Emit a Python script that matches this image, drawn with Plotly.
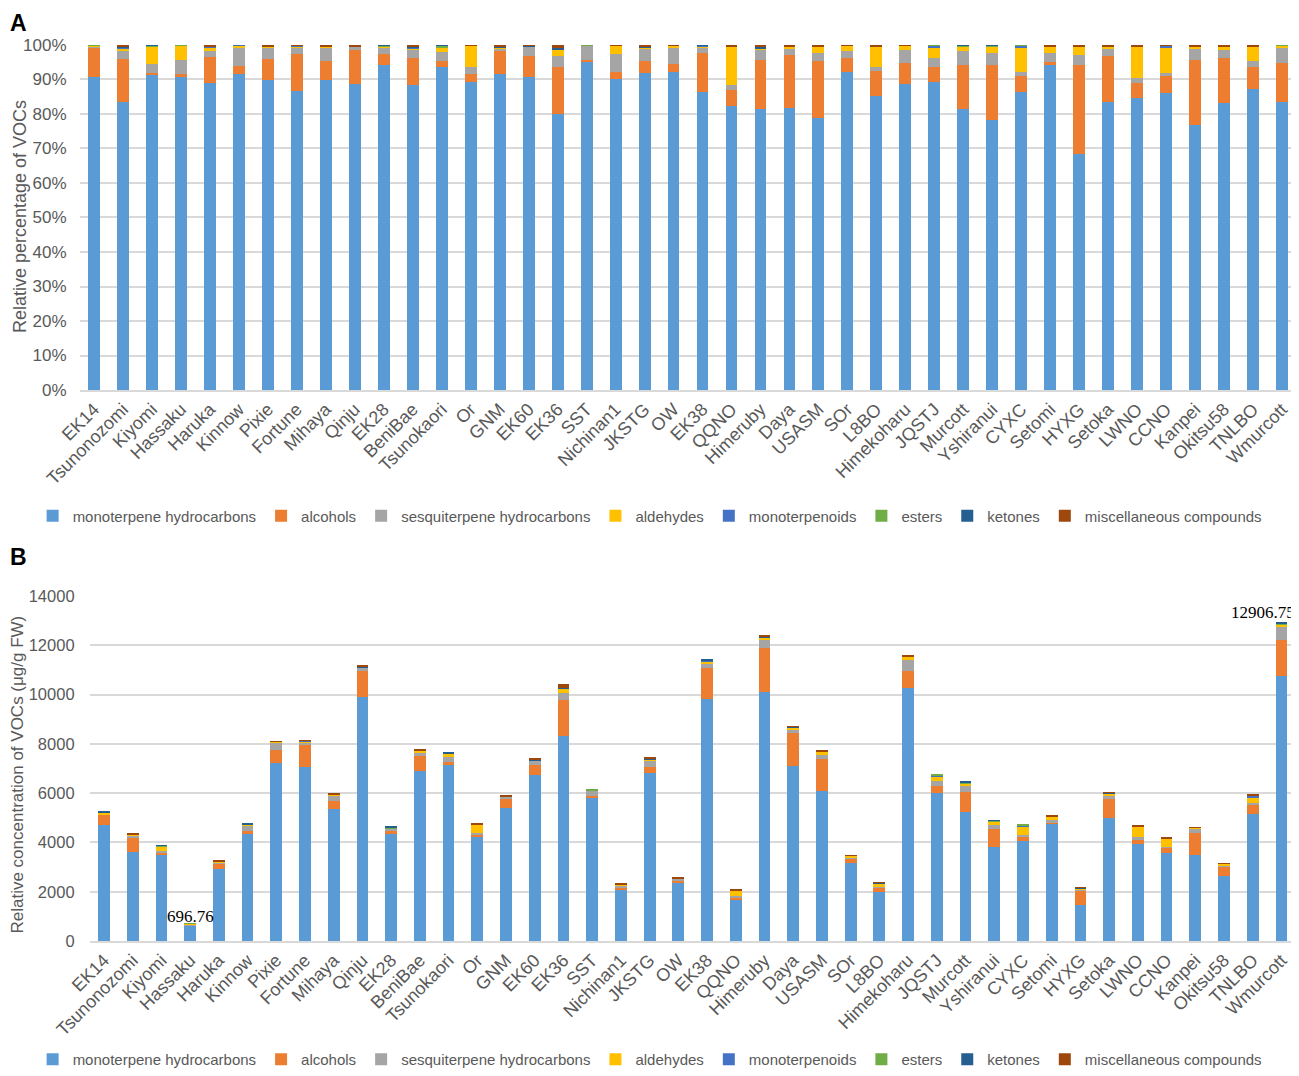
import plotly.graph_objects as go
from plotly.subplots import make_subplots

cultivars = ["EK14", "Tsunonozomi", "Kiyomi", "Hassaku", "Haruka", "Kinnow", "Pixie", "Fortune",
             "Mihaya", "Qinju", "EK28", "BeniBae", "Tsunokaori", "Or", "GNM", "EK60", "EK36", "SST",
             "Nichinan1", "JKSTG", "OW", "EK38", "QQNO", "Himeruby", "Daya", "USASM", "SOr", "L8BO",
             "Himekoharu", "JQSTJ", "Murcott", "Yshiranui", "CYXC", "Setomi", "HYXG", "Setoka",
             "LWNO", "CCNO", "Kanpei", "Okitsu58", "TNLBO", "Wmurcott"]

groups = ["monoterpene hydrocarbons", "alcohols", "sesquiterpene hydrocarbons", "aldehydes",
          "monoterpenoids", "esters", "ketones", "miscellaneous compounds"]
colors = ["#5B9BD5", "#ED7D31", "#A5A5A5", "#FFC000", "#4472C4", "#70AD47", "#255E91", "#9E480E"]

# panel A - relative percentage (%)
pct_mono_hc = [90.6, 83.5, 91.3, 90.6, 88.9, 91.7, 89.9, 86.7, 89.9, 88.7, 94.1, 88.3, 93.7, 89.3,
               91.7, 90.6, 80.0, 95.1, 90.0, 92.0, 92.3, 86.4, 82.2, 81.4, 81.7, 78.8, 92.3, 85.3,
               88.8, 89.3, 81.4, 78.3, 86.4, 94.3, 68.3, 83.6, 84.5, 86.1, 76.9, 83.1, 87.3, 83.5]
pct_alcohols = [8.6, 12.4, 0.7, 1.1, 7.6, 2.3, 6.0, 10.8, 5.5, 9.8, 3.4, 8.0, 1.6, 2.4,
                6.6, 6.2, 13.7, 0.6, 2.2, 3.3, 2.3, 11.2, 4.7, 14.3, 15.5, 16.6, 4.0, 7.1,
                6.1, 4.2, 12.9, 15.8, 4.6, 0.7, 26.0, 13.3, 4.5, 4.9, 18.8, 13.2, 6.4, 11.4]
pct_sesq_hc = [0.3, 2.6, 2.6, 3.9, 1.8, 5.1, 3.4, 1.8, 4.0, 1.0, 1.8, 2.2, 2.8, 2.0,
               0.7, 2.7, 3.2, 4.1, 5.2, 3.4, 4.7, 1.6, 1.4, 2.7, 1.6, 2.2, 2.0, 1.3,
               3.6, 2.7, 4.0, 3.5, 1.3, 2.6, 2.8, 1.9, 1.4, 0.9, 3.4, 2.2, 1.7, 4.2]
pct_aldehydes = [0.4, 0.5, 4.9, 4.2, 1.0, 0.7, 0.3, 0.2, 0.3, 0.2, 0.3, 0.6, 1.3, 6.1,
                 0.3, 0.1, 1.9, 0.0, 2.4, 0.6, 0.5, 0.5, 11.2, 0.6, 0.7, 1.9, 1.5, 5.8,
                 1.3, 3.1, 1.2, 1.9, 7.0, 1.9, 2.4, 0.7, 9.1, 7.4, 0.4, 1.0, 4.1, 0.7]
pct_monoterpenoids = [0, 0.2, 0, 0, 0.3, 0.2, 0, 0.3, 0, 0, 0, 0.3, 0, 0,
                      0, 0, 0, 0, 0, 0, 0, 0.1, 0, 0, 0, 0, 0, 0,
                      0, 0.5, 0, 0, 0.5, 0, 0, 0, 0, 0.5, 0, 0, 0, 0]
pct_esters = [0.1, 0, 0.4, 0.2, 0, 0, 0, 0, 0, 0, 0.2, 0, 0.4, 0,
              0, 0, 0, 0.2, 0, 0, 0, 0, 0, 0, 0, 0, 0, 0,
              0, 0.2, 0.3, 0.3, 0.2, 0, 0, 0, 0, 0, 0, 0, 0, 0.2]
pct_ketones = [0, 0.2, 0.1, 0, 0, 0, 0, 0, 0, 0, 0.2, 0.3, 0.2, 0,
               0.3, 0.2, 0.2, 0, 0, 0.3, 0, 0.2, 0.2, 0.3, 0.2, 0.2, 0, 0.2,
               0, 0, 0.2, 0.2, 0, 0.2, 0.2, 0.2, 0.2, 0, 0.2, 0.2, 0.2, 0]
pct_misc = [0, 0.6, 0, 0, 0.4, 0, 0.4, 0.2, 0.3, 0.3, 0, 0.3, 0, 0.2,
            0.4, 0.2, 1.0, 0, 0.2, 0.4, 0.2, 0, 0.3, 0.7, 0.3, 0.3, 0.2, 0.3,
            0.2, 0, 0, 0, 0, 0.3, 0.3, 0.3, 0.3, 0.2, 0.3, 0.3, 0.3, 0]

# panel B - concentration (ug/g FW)
conc_mono_hc = [4725, 3632, 3510, 620, 2903, 4334, 7223, 7061, 5346, 9883, 4334, 6885, 7142, 4212,
                5387, 6723, 8330, 5805, 2052, 6818, 2363, 9829, 1661, 10112, 7115, 6075, 3173, 1985,
                10288, 6008, 5225, 3807, 4050, 4752, 1445, 4982, 3929, 3578, 3510, 2619, 5144, 10747]
conc_alcohols = [405, 540, 68, 10, 229, 121, 540, 877, 324, 1093, 121, 608, 122, 108,
                 391, 432, 1431, 68, 95, 256, 67, 1269, 94, 1769, 1323, 1310, 162, 175,
                 688, 270, 837, 756, 203, 54, 607, 796, 202, 202, 878, 392, 364, 1471]
conc_sesq_hc = [20, 118, 67, 30, 60, 230, 297, 122, 243, 108, 108, 162, 202, 68,
                68, 149, 297, 243, 100, 230, 95, 162, 54, 337, 108, 148, 40, 40,
                432, 202, 216, 162, 54, 122, 41, 135, 81, 54, 162, 67, 108, 540]
conc_aldehydes = [60, 30, 176, 35, 35, 40, 25, 50, 30, 30, 20, 60, 122, 350,
                  20, 20, 189, 0, 60, 67, 30, 81, 245, 80, 120, 150, 80, 149,
                  135, 176, 100, 108, 351, 110, 50, 60, 419, 324, 35, 50, 216, 94]
conc_monoterpenoids = [0, 10, 0, 0, 10, 15, 10, 20, 0, 0, 0, 15, 0, 0,
                       0, 0, 0, 0, 0, 0, 0, 40, 0, 0, 0, 0, 0, 0,
                       0, 60, 0, 0, 40, 0, 0, 25, 0, 0, 0, 0, 60, 0]
conc_esters = [20, 0, 50, 1.76, 0, 0, 0, 0, 0, 0, 18, 0, 40, 0,
               0, 0, 0, 54, 0, 0, 0, 0, 0, 0, 0, 0, 0, 0,
               0, 34, 50, 50, 27, 0, 0, 0, 0, 0, 0, 0, 0, 40]
conc_ketones = [8, 10, 17, 0, 0, 12, 5, 10, 10, 15, 30, 15, 32, 0,
                14, 60, 30, 0, 0, 40, 0, 27, 5, 40, 20, 20, 0, 10,
                20, 0, 25, 18, 0, 15, 10, 15, 20, 20, 15, 10, 28, 14.75]
conc_misc = [0, 48, 0, 0, 17, 0, 14, 14, 28, 36, 0, 18, 0, 14,
             20, 41, 159, 0, 29, 41, 24, 0, 20, 83, 36, 33, 15, 31,
             48, 0, 0, 0, 0, 23, 21, 22, 34, 34, 17, 21, 20, 0]

pct_series = [pct_mono_hc, pct_alcohols, pct_sesq_hc, pct_aldehydes,
              pct_monoterpenoids, pct_esters, pct_ketones, pct_misc]
conc_series = [conc_mono_hc, conc_alcohols, conc_sesq_hc, conc_aldehydes,
               conc_monoterpenoids, conc_esters, conc_ketones, conc_misc]

totals = [sum(v) for v in zip(*conc_series)]

FONT = "Liberation Sans, Arial"
SERIF = "Liberation Serif, Times New Roman"
GREY = "#595959"
LINE = "#d9d9d9"

fig = make_subplots(rows=2, cols=1)

for name, col, pv, cv in zip(groups, colors, pct_series, conc_series):
    fig.add_trace(go.Bar(x=cultivars, y=pv, name=name, marker_color=col,
                         marker_line_width=0, legend="legend"), row=1, col=1)
    fig.add_trace(go.Bar(x=cultivars, y=cv, name=name, marker_color=col,
                         marker_line_width=0, legend="legend2"), row=2, col=1)

# x axes (page has an 8px body margin, so the figure is 1291x1068)
xcommon = dict(showgrid=False, showline=True, linecolor=LINE, linewidth=1.5,
               tickangle=-45, tickfont=dict(size=18, color=GREY, family=FONT),
               ticks="", automargin=False)
fig.update_xaxes(xcommon, row=1, col=1, domain=[0.0554, 0.9981])
fig.update_xaxes(xcommon, row=2, col=1, domain=[0.0632, 0.9988])

fig.update_yaxes(row=1, col=1, range=[0, 100], dtick=10, ticksuffix="%",
                 domain=[0.6423, 0.9654], ticklabelstandoff=12,
                 tickfont=dict(size=17, color=GREY, family=FONT))
fig.update_yaxes(row=2, col=1, range=[0, 14000], dtick=2000, tickformat="d",
                 domain=[0.1264, 0.4494], ticklabelstandoff=14,
                 tickfont=dict(size=16.5, color=GREY, family=FONT))
fig.update_yaxes(showgrid=True, gridcolor=LINE, gridwidth=1.5, zeroline=False,
                 showline=False, automargin=False)

legend_common = dict(orientation="h", xanchor="center", x=0.497,
                     font=dict(size=15, color=GREY, family=FONT), traceorder="normal",
                     itemwidth=30, bgcolor="rgba(0,0,0,0)")

fig.update_layout(
    barmode="stack",
    bargap=0.59,
    width=1291, height=1068,
    margin=dict(l=0, r=0, t=0, b=0),
    plot_bgcolor="white", paper_bgcolor="white",
    legend=dict(legend_common, y=0.5243, yanchor="middle"),
    legend2=dict(legend_common, y=0.0, yanchor="bottom"),
    annotations=[
        dict(text="<b>A</b>", x=0.0, y=1.0, xref="paper", yref="paper",
             xanchor="left", yanchor="top", showarrow=False,
             font=dict(size=23, color="black", family=FONT)),
        dict(text="<b>B</b>", x=0.0, y=0.486, xref="paper", yref="paper",
             xanchor="left", yanchor="middle", showarrow=False,
             font=dict(size=23, color="black", family=FONT)),
        dict(text="Relative percentage of VOCs", textangle=-90, x=0.0, y=0.8043,
             xref="paper", yref="paper", xanchor="left", yanchor="middle", showarrow=False,
             font=dict(size=18, color=GREY, family=FONT)),
        dict(text="Relative concentration of VOCs (μg/g FW)", textangle=-90, x=0.0, y=0.2818,
             xref="paper", yref="paper", xanchor="left", yanchor="middle", showarrow=False,
             xshift=-2, font=dict(size=17, color=GREY, family=FONT)),
        dict(text="696.76", x="Hassaku", y=totals[3], xref="x2", yref="y2",
             xanchor="center", yanchor="bottom", yshift=-4, showarrow=False,
             font=dict(size=17, color="black", family=SERIF)),
        dict(text="12906.75", x="Wmurcott", y=totals[-1], xref="x2", yref="y2",
             xanchor="center", yanchor="bottom", yshift=-1, xshift=-18, showarrow=False,
             font=dict(size=17, color="black", family=SERIF)),
    ],
)

fig.write_html("out.html")
